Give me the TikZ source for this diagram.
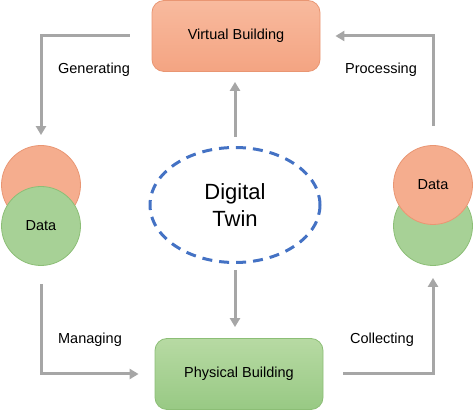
\documentclass[tikz,border=0pt]{standalone}
\usepackage{fontspec}
\setmainfont{Liberation Sans}
\usetikzlibrary{arrows.meta,shapes.geometric}
\definecolor{orangeTop}{RGB}{248,186,158}
\definecolor{orangeBot}{RGB}{244,164,130}
\definecolor{orangeLine}{RGB}{233,150,115}
\definecolor{greenTop}{RGB}{183,218,163}
\definecolor{greenBot}{RGB}{152,201,132}
\definecolor{greenLine}{RGB}{140,190,118}
\definecolor{twinBlue}{RGB}{68,114,196}
\definecolor{flowGray}{RGB}{166,166,166}
\tikzset{
  building/.style={draw, line width=0.8pt, rounded corners=12pt, minimum width=168pt,
    minimum height=71pt, font=\fontsize{14.5}{17}\selectfont},
  vbox/.style={building, draw=orangeLine, top color=orangeTop, bottom color=orangeBot},
  pbox/.style={building, draw=greenLine, top color=greenTop, bottom color=greenBot},
  datadisc/.style={circle, draw, line width=0.8pt, minimum size=79pt, inner sep=0pt,
    font=\fontsize{14.5}{17}\selectfont},
  odisc/.style={datadisc, draw=orangeLine, fill=orangeBot!90!white},
  gdisc/.style={datadisc, draw=greenLine, fill=greenBot!85!white},
  flow/.style={draw=flowGray, line width=3pt, -{Triangle[length=9pt,width=10pt]}},
  steplabel/.style={font=\fontsize{14.5}{17}\selectfont}
}
\begin{document}
\begin{tikzpicture}[x=1pt,y=-1pt]
  \useasboundingbox (0,0) rectangle (474,411);
  % buildings
  \node[vbox] (vb) at (236,36) {Virtual Building};
  \node[pbox] (pb) at (239,374) {Physical Building};
  % twin
  \node[ellipse, draw=twinBlue, line width=3pt, dash pattern=on 10pt off 7pt,
    minimum width=170pt, minimum height=115pt, align=center,
    font=\fontsize{22}{27}\selectfont] (twin) at (235,205) {Digital\\Twin};
  % data discs
  \node[odisc] (lorange) at (41,185) {};
  \node[gdisc] (lgreen) at (41,226) {Data};
  \node[gdisc] (rgreen) at (433,226) {};
  \node[odisc] (rorange) at (433,185) {Data};
  % flows
  \draw[flow, shorten <=22pt, shorten >=10pt] (vb.west) -| (lorange.north);
  \draw[flow, shorten <=19pt, shorten >=15pt] (rorange.north) |- (vb.east);
  \draw[flow, shorten <=9pt, shorten >=10pt] (twin.north) -- (vb.south -| twin.north);
  \draw[flow, shorten <=6pt, shorten >=11pt] (twin.south) -- (twin.south |- pb.north);
  \draw[flow, shorten <=18pt, shorten >=16pt] (lgreen.south) |- (pb.west);
  \draw[flow, shorten <=20pt, shorten >=12pt] (pb.east) -| (rgreen.south);
  % labels
  \node[steplabel] (gen) at (94,70) {Generating};
  \node[steplabel] (proc) at (381,70) {Processing};
  \node[steplabel] (man) at (90,340) {Managing};
  \node[steplabel] (coll) at (382,340) {Collecting};
\end{tikzpicture}
\end{document}
